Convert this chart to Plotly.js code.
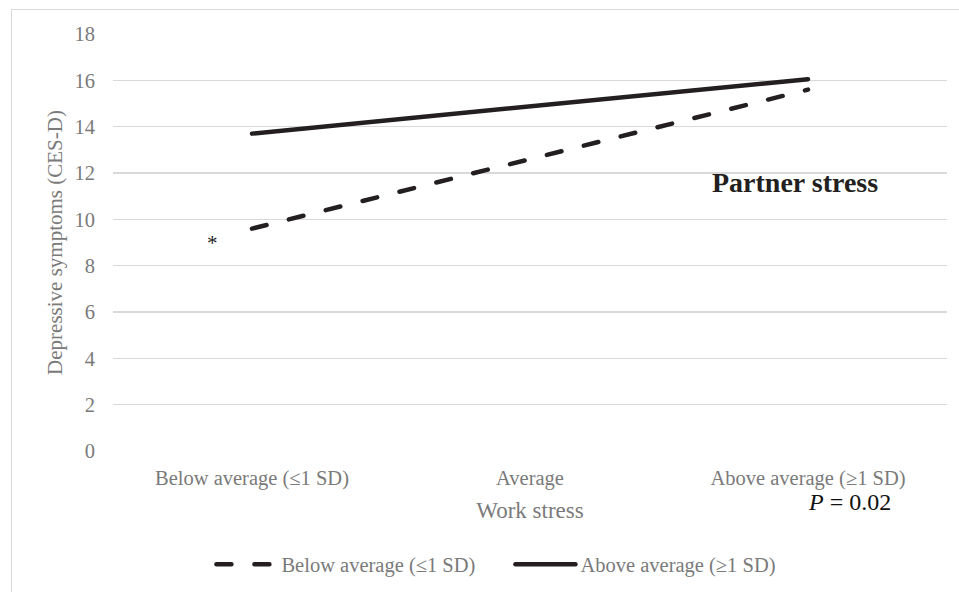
<!DOCTYPE html>
<html>
<head>
<meta charset="utf-8">
<script src="https://cdn.plot.ly/plotly-3.0.1.min.js"></script>
<style>
  html, body { margin: 0; padding: 0; background: #fff; }
  #wrap { position: relative; width: 959px; height: 592px; }
  #chart { width: 959px; height: 592px; }
  #frame { position: absolute; left: 11px; top: 9px; width: 960px; height: 600px;
           border: 1.5px solid #d9d9d9; pointer-events: none; box-sizing: border-box; }
  .js-line { stroke-linecap: round; }
</style>
</head>
<body>
<div id="wrap">
  <div id="chart"></div>
  <div id="frame"></div>
</div>
<script>
// Data
const categories = ["Below average (≤1 SD)", "Average", "Above average (≥1 SD)"];
const seriesNames = ["Below average (≤1 SD)", "Above average (≥1 SD)"];
const lowPartnerX = ["Below average (≤1 SD)", "Above average (≥1 SD)"];
const lowPartnerY = [9.6, 15.6];
const highPartnerX = ["Below average (≤1 SD)", "Above average (≥1 SD)"];
const highPartnerY = [13.7, 16.05];
const yTicks = [0, 2, 4, 6, 8, 10, 12, 14, 16, 18];

const FONT = "Liberation Serif, 'DejaVu Serif', serif";
const GRAY = "#7a7a7a";

const traces = [
  {
    x: lowPartnerX, y: lowPartnerY, name: seriesNames[0],
    type: "scatter", mode: "lines",
    line: { color: "#231f20", width: 4.5, dash: "15px,23px" }
  },
  {
    x: highPartnerX, y: highPartnerY, name: seriesNames[1],
    type: "scatter", mode: "lines",
    line: { color: "#231f20", width: 4.5 }
  }
];

const layout = {
  width: 959, height: 592,
  margin: { l: 113, r: 12, t: 34, b: 141, autoexpand: false },
  paper_bgcolor: "#fff", plot_bgcolor: "#fff",
  font: { family: FONT, size: 20.5, color: GRAY },
  showlegend: true,
  legend: {
    orientation: "h", x: 0.118, xanchor: "left", y: -0.272, yanchor: "middle",
    font: { family: FONT, size: 20.5, color: GRAY },
    itemwidth: 60, entrywidth: 224, entrywidthmode: "pixels",
    bgcolor: "rgba(0,0,0,0)"
  },
  xaxis: {
    type: "category", categoryorder: "array", categoryarray: categories,
    range: [-0.5, 2.5], showgrid: false, zeroline: false, showline: false,
    ticks: "", tickfont: { family: FONT, size: 20.5, color: GRAY },
    ticklabelstandoff: 12,
    title: { text: "Work stress", font: { family: FONT, size: 23, color: GRAY }, standoff: 13 }
  },
  yaxis: {
    range: [0, 18], tickvals: yTicks, showgrid: true, gridcolor: "#d9d9d9", gridwidth: 1.5,
    zeroline: false, showline: false, ticks: "",
    tickfont: { family: FONT, size: 20.5, color: GRAY },
    ticklabelstandoff: 17,
    title: { text: "Depressive symptoms (CES-D)", font: { family: FONT, size: 21, color: GRAY }, standoff: 6 }
  },
  annotations: [
    { text: "*", xref: "paper", yref: "y", x: 0.119, y: 9.0, xanchor: "center", yanchor: "middle",
      showarrow: false, font: { family: FONT, size: 21, color: "#231f20" } },
    { text: "<b>Partner stress</b>", xref: "paper", yref: "y", x: 0.818, y: 11.57,
      xanchor: "center", yanchor: "middle", showarrow: false,
      font: { family: FONT, size: 28, color: "#231f20" } },
    { text: "<i>P</i> = 0.02", xref: "paper", yref: "paper", x: 0.8825, y: -0.122,
      xanchor: "center", yanchor: "middle", showarrow: false,
      font: { family: FONT, size: 24, color: "#111" } }
  ]
};

Plotly.newPlot("chart", traces, layout, { displayModeBar: false, staticPlot: true });
</script>
</body>
</html>
